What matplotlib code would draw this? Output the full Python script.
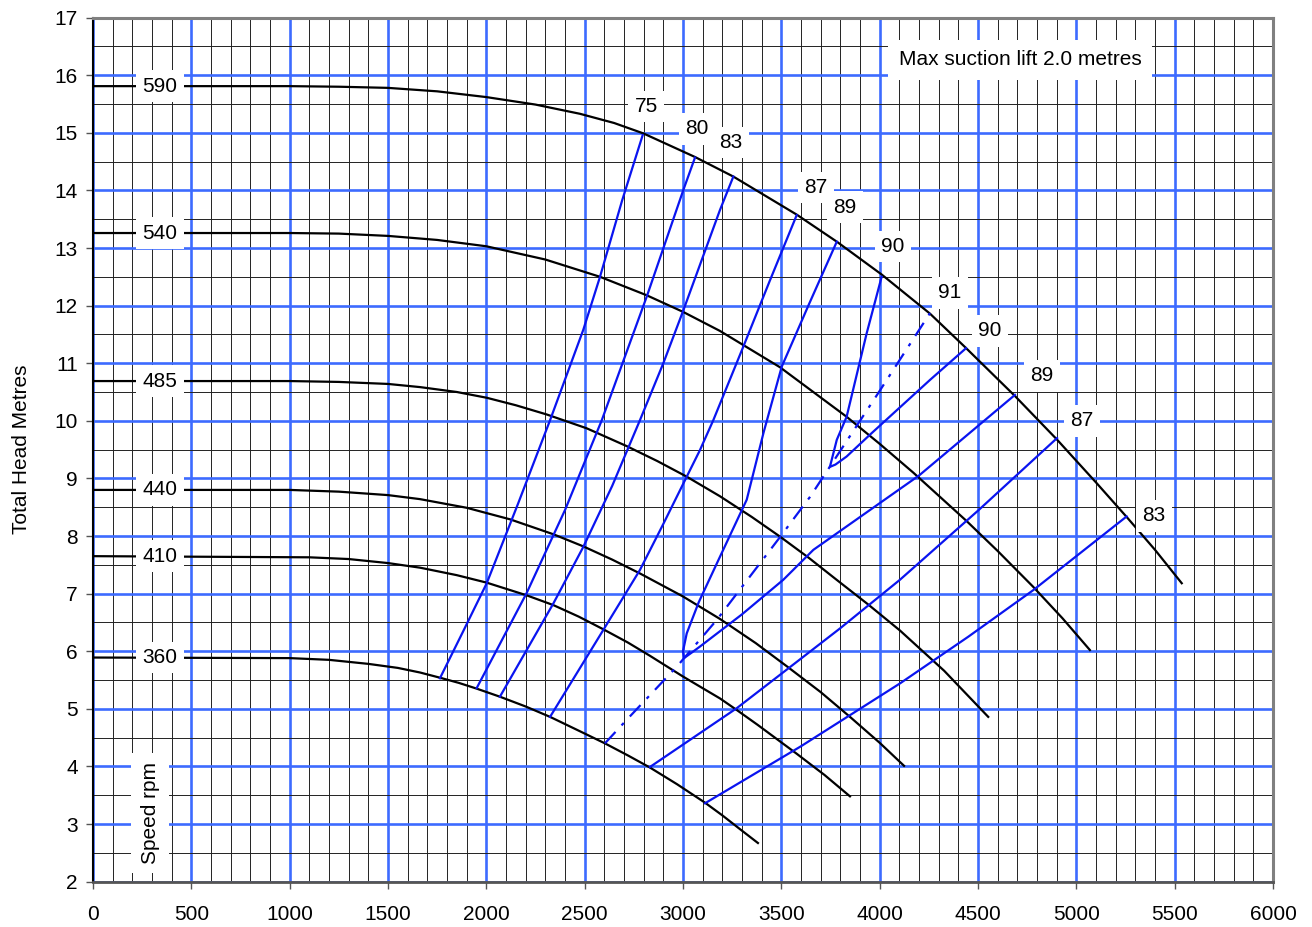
import matplotlib.pyplot as plt
from matplotlib.ticker import MultipleLocator

plt.rcParams['font.family'] = ['Liberation Sans', 'DejaVu Sans']

# speed curves (rpm), flow vs total head
speeds = ['590', '540', '485', '440', '410', '360']
q590 = [0, 1000, 1250, 1500, 1750, 2000, 2250, 2476, 2650, 2798, 3061, 3256, 3578, 3782, 4010, 4256, 4434, 4688, 4900, 5100, 5256, 5400, 5536]
h590 = [15.81, 15.81, 15.80, 15.78, 15.72, 15.62, 15.49, 15.33, 15.17, 14.99, 14.58, 14.24, 13.58, 13.11, 12.54, 11.86, 11.28, 10.43, 9.68, 8.93, 8.33, 7.76, 7.18]
q540 = [0, 1000, 1250, 1500, 1750, 2000, 2300, 2578, 2815, 3001, 3188, 3493, 3832, 4000, 4171, 4442, 4600, 4780, 4930, 5069]
h540 = [13.26, 13.26, 13.25, 13.21, 13.14, 13.03, 12.80, 12.50, 12.18, 11.89, 11.56, 10.93, 10.07, 9.60, 9.10, 8.26, 7.74, 7.12, 6.57, 6.02]
q485 = [0, 1000, 1250, 1500, 1663, 1850, 2002, 2150, 2307, 2510, 2714, 2870, 3019, 3188, 3350, 3493, 3640, 3781, 3942, 4103, 4328, 4552]
h485 = [10.69, 10.69, 10.675, 10.64, 10.585, 10.50, 10.40, 10.27, 10.11, 9.87, 9.56, 9.30, 9.03, 8.69, 8.33, 7.99, 7.62, 7.24, 6.81, 6.36, 5.66, 4.86]
q440 = [0, 1000, 1250, 1500, 1663, 1900, 2120, 2341, 2493, 2640, 2781, 3000, 3188, 3370, 3535, 3700, 3849, 4000, 4124]
h440 = [8.80, 8.80, 8.77, 8.71, 8.64, 8.49, 8.29, 8.03, 7.82, 7.59, 7.35, 6.95, 6.56, 6.14, 5.72, 5.29, 4.86, 4.41, 4.01]
q410 = [0, 1100, 1300, 1500, 1663, 1850, 2002, 2205, 2341, 2470, 2595, 2720, 2832, 3000, 3188, 3273, 3380, 3578, 3720, 3849]
h410 = [7.65, 7.63, 7.60, 7.53, 7.45, 7.32, 7.19, 6.97, 6.80, 6.60, 6.38, 6.15, 5.92, 5.56, 5.18, 4.98, 4.72, 4.22, 3.85, 3.48]
q360 = [0, 1000, 1200, 1400, 1550, 1663, 1764, 1860, 1951, 2069, 2200, 2324, 2476, 2603, 2720, 2832, 2970, 3112, 3200, 3290, 3381]
h360 = [5.89, 5.88, 5.85, 5.78, 5.71, 5.63, 5.54, 5.45, 5.35, 5.21, 5.04, 4.86, 4.61, 4.40, 4.19, 3.98, 3.69, 3.37, 3.15, 2.91, 2.67]

# efficiency contours (%)
e75_q = [2795, 2690, 2578, 2493, 2324, 2160, 2002, 1880, 1764]
e75_h = [14.96, 13.82, 12.50, 11.58, 10.01, 8.55, 7.18, 6.33, 5.53]
e80_q = [3061, 3002, 2816, 2587, 2400, 2205, 1951]
e80_h = [14.57, 14.01, 12.16, 10.01, 8.45, 7.01, 5.36]
e83_q = [3256, 3188, 3002, 2900, 2781, 2640, 2493, 2341, 2069]
e83_h = [14.24, 13.66, 11.92, 11.00, 10.01, 8.87, 7.81, 6.83, 5.21]
e83r_q = [3112, 3600, 4103, 4450, 4781, 5256]
e83r_h = [3.36, 4.35, 5.44, 6.25, 7.06, 8.34]
e87_q = [3578, 3440, 3307, 3154, 3086, 3019, 2900, 2781, 2595, 2324]
e87_h = [13.57, 12.42, 11.29, 10.01, 9.49, 9.03, 8.21, 7.41, 6.37, 4.86]
e87r_q = [2832, 3273, 3535, 3800, 4103, 4500, 4902]
e87r_h = [3.99, 5.01, 5.70, 6.40, 7.24, 8.44, 9.70]
e89_q = [3782, 3640, 3502, 3410, 3324, 3188, 3080, 3019, 3000, 3005, 3046, 3086, 3300, 3510, 3663, 4200, 4688]
e89_h = [13.11, 12.02, 10.94, 9.80, 8.63, 7.64, 6.85, 6.31, 6.00, 5.88, 5.98, 6.08, 6.64, 7.24, 7.76, 9.05, 10.45]
e90_q = [4010, 3934, 3832, 3782, 3747, 3775, 3832, 3951, 4256, 4439]
e90_h = [12.50, 11.52, 10.07, 9.67, 9.20, 9.24, 9.38, 9.76, 10.71, 11.26]
e91_q = [2603, 2714, 2968, 3171, 3493, 3646, 4002, 4256]
e91_h = [4.40, 4.81, 5.73, 6.54, 7.98, 8.68, 10.53, 11.87]

# label positions
speed_lab_q = 340
speed_lab_h = [15.81, 13.26, 10.69, 8.80, 7.65, 5.89]
eff_labels = ['75', '80', '83', '87', '89', '90', '91', '90', '89', '87', '83']
eff_lab_q = [2812, 3071, 3244, 3676, 3824, 4068, 4358, 4561, 4826, 5029, 5395]
eff_lab_h = [15.46, 15.07, 14.83, 14.05, 13.71, 13.03, 12.22, 11.56, 10.78, 10.00, 8.35]

fig = plt.figure(figsize=(13.12, 9.27), dpi=100)
ax = fig.add_axes([93 / 1312, 1 - 881.6 / 927, 1180 / 1312, 864 / 927])
ax.set_xlim(0, 6000)
ax.set_ylim(2, 17)
ax.xaxis.set_major_locator(MultipleLocator(500))
ax.xaxis.set_minor_locator(MultipleLocator(100))
ax.yaxis.set_major_locator(MultipleLocator(1))
ax.yaxis.set_minor_locator(MultipleLocator(0.5))
ax.grid(which='minor', color='#222222', lw=0.7)
ax.grid(which='major', color='#3d6bff', lw=1.9)
ax.set_axisbelow(True)
ax.tick_params(which='minor', length=0)
ax.tick_params(which='major', direction='out', length=5, width=1, labelsize=15, color='#555555')
ax.tick_params(axis='x', pad=12)
ax.tick_params(axis='y', pad=6)
for s in ['top', 'right']:
    ax.spines[s].set_color('#808080')
    ax.spines[s].set_linewidth(2.2)
ax.spines['left'].set_color('black')
ax.spines['left'].set_linewidth(1.5)
ax.spines['bottom'].set_color('#555555')
ax.spines['bottom'].set_linewidth(2)

for q, h in [(q590, h590), (q540, h540), (q485, h485), (q440, h440), (q410, h410), (q360, h360)]:
    ax.plot(q, h, color='black', lw=1.6, zorder=3, solid_joinstyle='round')

blue = '#0a14f0'
for q, h in [(e75_q, e75_h), (e80_q, e80_h), (e83_q, e83_h), (e83r_q, e83r_h), (e87_q, e87_h),
             (e87r_q, e87r_h), (e89_q, e89_h), (e90_q, e90_h)]:
    ax.plot(q, h, color=blue, lw=1.6, zorder=3, solid_joinstyle='round')
ax.plot(e91_q, e91_h, color=blue, lw=1.6, zorder=3, linestyle=(0, (7, 4, 1.5, 4)))

box = dict(boxstyle='square,pad=0.3', fc='white', ec='none')
for lab, h in zip(speeds, speed_lab_h):
    ax.text(speed_lab_q, h, lab, ha='center', va='center', fontsize=15, bbox=box, zorder=5)
for lab, q, h in zip(eff_labels, eff_lab_q, eff_lab_h):
    ax.text(q, h, lab, ha='center', va='center', fontsize=15, bbox=box, zorder=5)

ax.text(4714, 16.27, 'Max suction lift 2.0 metres', ha='center', va='center', fontsize=15,
        bbox=dict(boxstyle='square,pad=0.5', fc='white', ec='none'), zorder=5)
ax.text(290, 3.19, 'Speed rpm', ha='center', va='center', rotation=90, fontsize=15,
        bbox=dict(boxstyle='square,pad=0.45', fc='white', ec='none'), zorder=5)

ax.set_ylabel('Total Head Metres', fontsize=15, labelpad=17)

fig.savefig('out.png', dpi=100)
